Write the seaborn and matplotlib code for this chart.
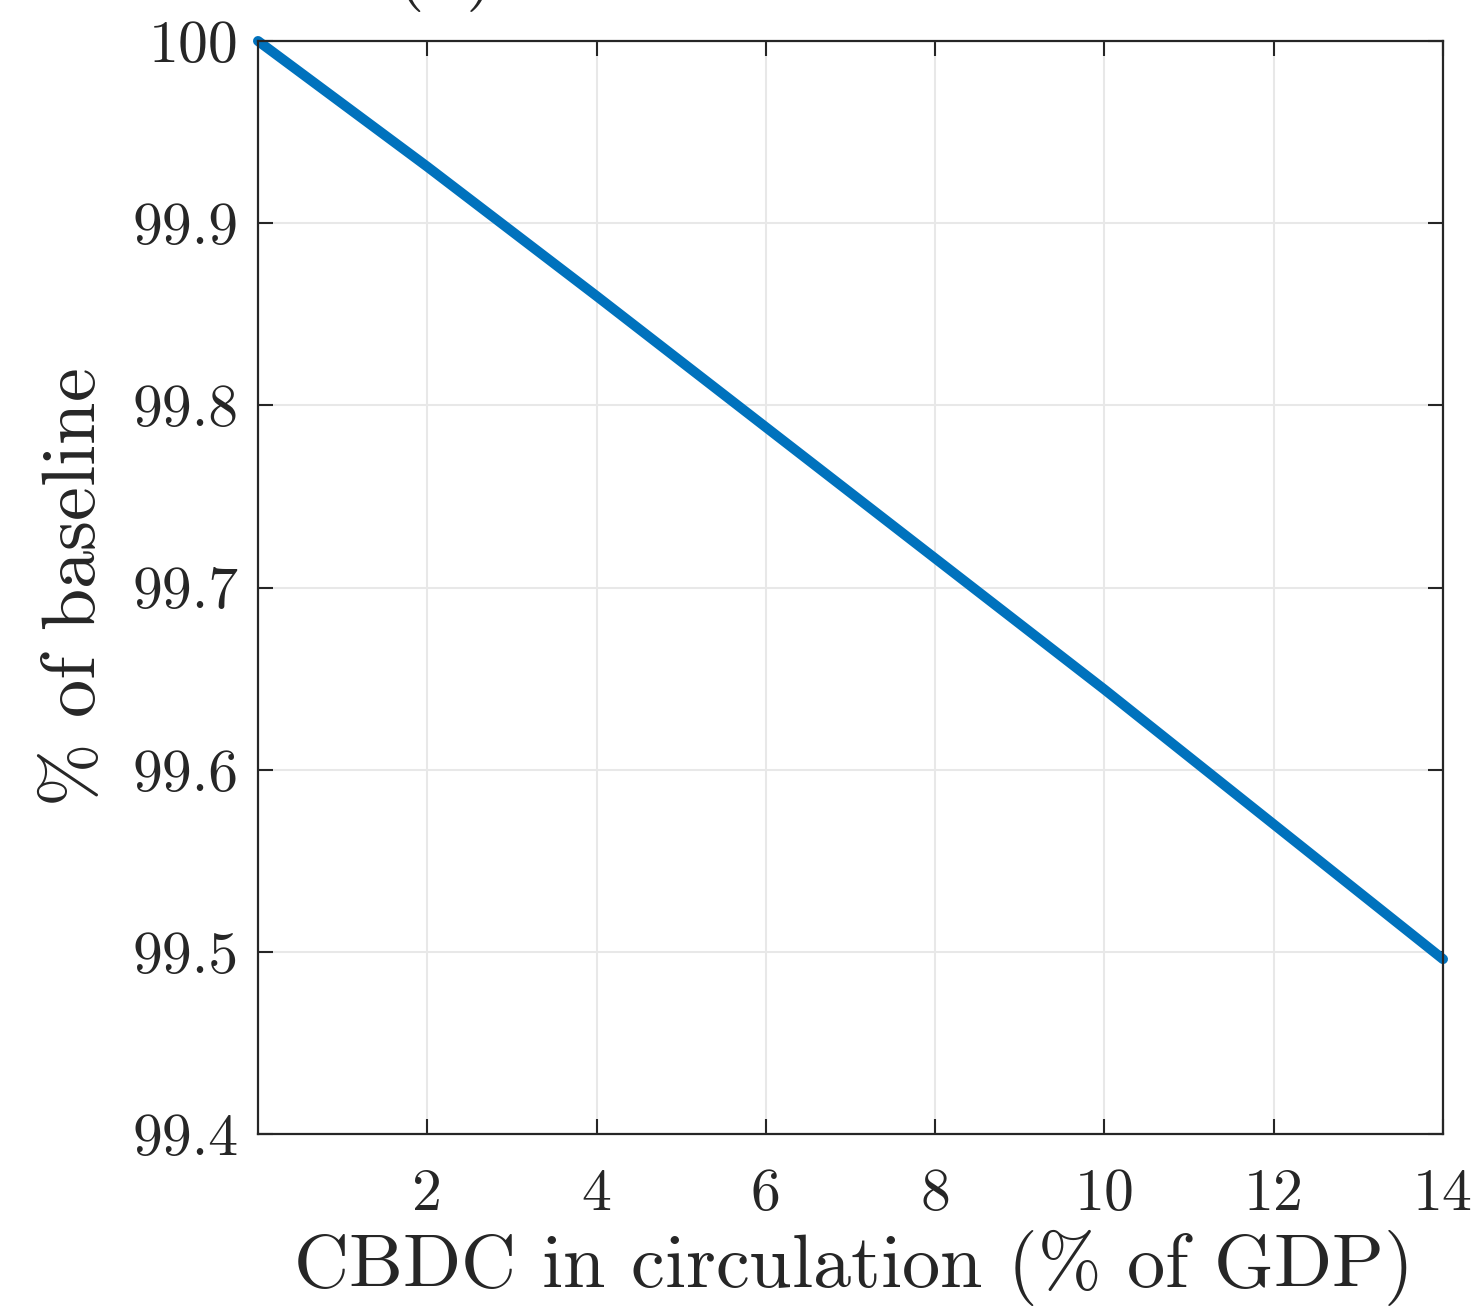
import numpy as np
import pandas as pd
import matplotlib
matplotlib.use("Agg")
import matplotlib.pyplot as plt
import seaborn as sns

# data
cbdc_gdp = [0, 1, 2, 3, 4, 5, 6, 7, 8, 9, 10, 11, 12, 13, 14]
pct_baseline = [100.0, 99.9655, 99.931, 99.8955, 99.860, 99.824, 99.788, 99.752,
                99.716, 99.680, 99.644, 99.607, 99.570, 99.533, 99.496]
x_ticks = [2, 4, 6, 8, 10, 12, 14]
y_ticks = [99.4, 99.5, 99.6, 99.7, 99.8, 99.9, 100]
y_tick_labels = ["99.4", "99.5", "99.6", "99.7", "99.8", "99.9", "100"]

sns.set_theme(style="whitegrid")
plt.rcParams["font.family"] = ["cmr10", "DejaVu Serif"]
plt.rcParams["mathtext.fontset"] = "cm"
plt.rcParams["axes.formatter.use_mathtext"] = True

df = pd.DataFrame({"x": cbdc_gdp, "y": pct_baseline})

fig = plt.figure(figsize=(14.81, 13.10), dpi=100)
ax = fig.add_axes([258/1481, 1-1134/1310, (1443-258)/1481, (1134-41)/1310])
sns.lineplot(data=df, x="x", y="y", ax=ax, color="#0072BD", linewidth=7.2, clip_on=False)

ax.set_xlim(0, 14)
ax.set_ylim(99.4, 100)
ax.set_xticks(x_ticks)
ax.set_xticklabels([str(t) for t in x_ticks])
ax.set_yticks(y_ticks)
ax.set_yticklabels(y_tick_labels)

ax.set_facecolor("white")
ax.grid(True, color="#e8e8e8", linewidth=1.5)
for s in ax.spines.values():
    s.set_visible(True)
    s.set_color("#262626")
    s.set_linewidth(1.6)

ax.tick_params(axis="both", which="both", direction="in", length=11, width=1.5,
               colors="#262626", labelcolor="#262626", labelsize=43,
               top=True, right=True, bottom=True, left=True)
ax.tick_params(axis="x", pad=25)
ax.tick_params(axis="y", pad=14)

ax.set_xlabel(r"CBDC in circulation ($\%$ of GDP)", fontsize=55, color="#262626", labelpad=3)
ax.set_ylabel(r"$\%$ of baseline", fontsize=55, color="#262626", labelpad=16)

# panel title, cropped at the top edge as in the reference
fig.text(445/1481, 1.0 + 26/1310, "(b)", fontsize=55, ha="center", va="center", color="#262626")

fig.savefig("out.png", dpi=100, facecolor="white")
